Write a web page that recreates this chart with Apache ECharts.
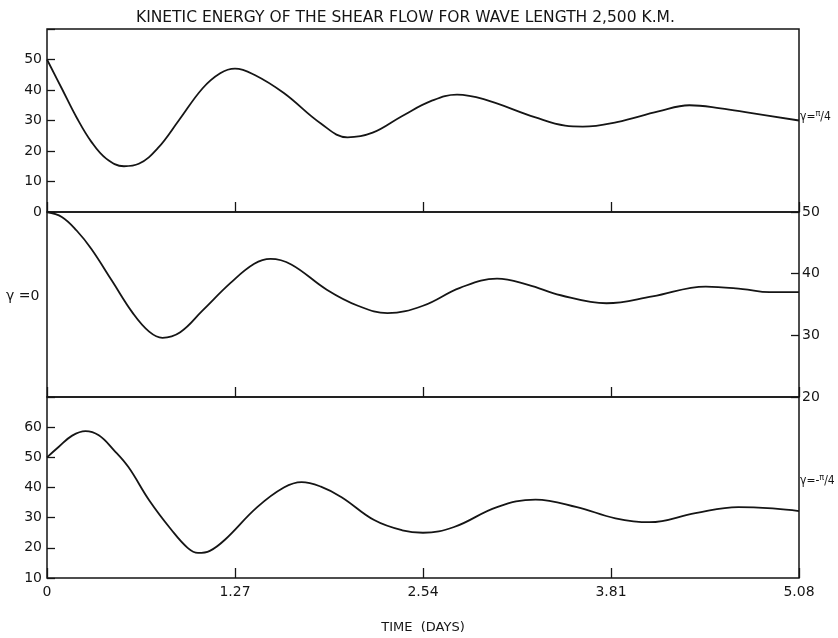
<!DOCTYPE html>
<html>
<head>
<meta charset="utf-8">
<script src="https://cdn.jsdelivr.net/npm/echarts@6/dist/echarts.min.js"></script>
<style>
html,body{margin:0;padding:0;background:#fff;}
#c{width:838px;height:638px;}
</style>
</head>
<body>
<div id="c"></div>
<script>
// ---- data ----
var titleText = 'KINETIC ENERGY OF THE SHEAR FLOW FOR WAVE LENGTH 2,500 K.M.';
var xTicks = [0, 1.27, 2.54, 3.81, 5.08];

// gamma = pi/4 (top panel, left axis 0..60)
var tTop = [0,0.1,0.2,0.3,0.4,0.52,0.62,0.75,0.89,1.05,1.17,1.27,1.4,1.6,1.85,2.03,2.2,2.4,2.6,2.77,2.95,3.3,3.5,3.62,3.85,4.13,4.34,4.55,4.75,5.08];
var vTop = [50,40.5,31,23,17.5,15,15.8,21,30,40.5,45.5,47,45,39,29,24.5,26,31.5,36.5,38.5,37,31,28.3,28,29.5,33,35,34,32.5,30];

// gamma = 0 (middle panel, right axis 20..50)
var tMid = [0,0.1,0.2,0.3,0.44,0.58,0.69,0.78,0.9,1.05,1.24,1.4,1.51,1.65,1.89,2.1,2.3,2.54,2.79,3.04,3.25,3.47,3.78,4.09,4.45,4.7,4.88,5.08];
var vMid = [50,49.2,47,44,38.8,33.6,30.6,29.6,30.5,34,38.5,41.6,42.4,41.5,37.4,34.8,33.6,34.8,37.7,39.2,38.2,36.5,35.2,36.3,37.9,37.5,37,37];

// gamma = -pi/4 (bottom panel, left axis 10..70)
var tBot = [0,0.08,0.17,0.26,0.35,0.45,0.55,0.69,0.84,0.95,1.02,1.1,1.2,1.42,1.6,1.72,1.85,1.99,2.21,2.4,2.54,2.75,3.04,3.3,3.58,3.84,4.07,4.38,4.67,4.92,5.08];
var vBot = [50,53.5,57.2,58.7,57.3,52.5,46.8,35.8,26,20,18.3,19,22.6,33.5,40,41.8,40.3,36.8,29.2,25.8,25,26.9,33.5,36,33.5,29.8,28.5,31.5,33.5,33,32.2];

var topRange = [0, 60], midRange = [20, 50], botRange = [10, 70];
var xLabel = 'TIME  (DAYS)';

function pairs(t, v){ return t.map(function(x,i){ return [x, v[i]]; }); }

var FONT = '"DejaVu Sans","Liberation Sans",sans-serif';
var NARROW = '"DejaVu Sans Condensed","Liberation Sans Narrow","DejaVu Sans",sans-serif';
var INK = '#151515';

function xAxisDef(idx, showLabels){
  return {
    type:'value', gridIndex: idx, min: 0, max: 5.08, interval: 1.27,
    axisLine:{show:false, onZero:false},
    axisTick:{show:true, inside:true, length:10, lineStyle:{color:INK, width:1.3}},
    splitLine:{show:false},
    axisLabel:{show:showLabels, color:INK, fontSize:14, fontFamily:FONT, margin:7,
      formatter:function(v){ return v === 0 ? '0' : v.toFixed(2); }},
    name: showLabels ? xLabel : '',
    nameLocation:'middle', nameGap:43,
    nameTextStyle:{color:INK, fontSize:13, fontFamily:FONT}
  };
}
function yAxisDef(idx, range, pos, hideMax){
  return {
    type:'value', gridIndex: idx, min: range[0], max: range[1], interval: 10,
    position: pos,
    axisLine:{show:false, onZero:false},
    axisTick:{show:true, inside:true, length:8, lineStyle:{color:INK, width:1.3}},
    splitLine:{show:false},
    axisLabel:{color:INK, fontSize:14, fontFamily:FONT, margin: pos==='right'?3:5,
      formatter:function(v){ return (hideMax && v===range[1]) ? '' : String(v); }}
  };
}

var chart = echarts.init(document.getElementById('c'), null, {renderer:'canvas'});
var gridStyle = {show:true, borderColor:INK, borderWidth:1.5, backgroundColor:'transparent'};
var lineStyle = {color:INK, width:1.8};
var rich = {g:{fontSize:12, fontFamily:NARROW, fill:INK}, p:{fontSize:9, fontFamily:NARROW, fill:INK, verticalAlign:'top', padding:[0,0,7,0]}};

chart.setOption({
  backgroundColor:'#ffffff',
  animation:false,
  title:{text:titleText, left:131, top:5,
    textStyle:{color:INK, fontSize:15.5, fontWeight:'normal', fontFamily:FONT}},
  grid:[
    Object.assign({left:47, right:39, top:29, height:183}, gridStyle),
    Object.assign({left:47, right:39, top:212, height:185}, gridStyle),
    Object.assign({left:47, right:39, top:397, height:181}, gridStyle)
  ],
  xAxis:[xAxisDef(0,false), xAxisDef(1,false), xAxisDef(2,true)],
  yAxis:[yAxisDef(0, topRange, 'left', true), yAxisDef(1, midRange, 'right', false), yAxisDef(2, botRange, 'left', true)],
  series:[
    {type:'line', xAxisIndex:0, yAxisIndex:0, data:pairs(tTop,vTop), smooth:0.4, showSymbol:false, lineStyle:lineStyle},
    {type:'line', xAxisIndex:1, yAxisIndex:1, data:pairs(tMid,vMid), smooth:0.4, showSymbol:false, lineStyle:lineStyle},
    {type:'line', xAxisIndex:2, yAxisIndex:2, data:pairs(tBot,vBot), smooth:0.4, showSymbol:false, lineStyle:lineStyle}
  ],
  graphic:[
    {type:'text', left:800, top:109, style:{rich:rich, text:'{g|γ=}{p|π}{g|/4}'}},
    {type:'text', left:6, top:289, style:{text:'γ =0', fontSize:14, fontFamily:FONT, fill:INK}},
    {type:'text', left:800, top:473, style:{rich:rich, text:'{g|γ=-}{p|π}{g|/4}'}}
  ]
});
</script>
</body>
</html>
